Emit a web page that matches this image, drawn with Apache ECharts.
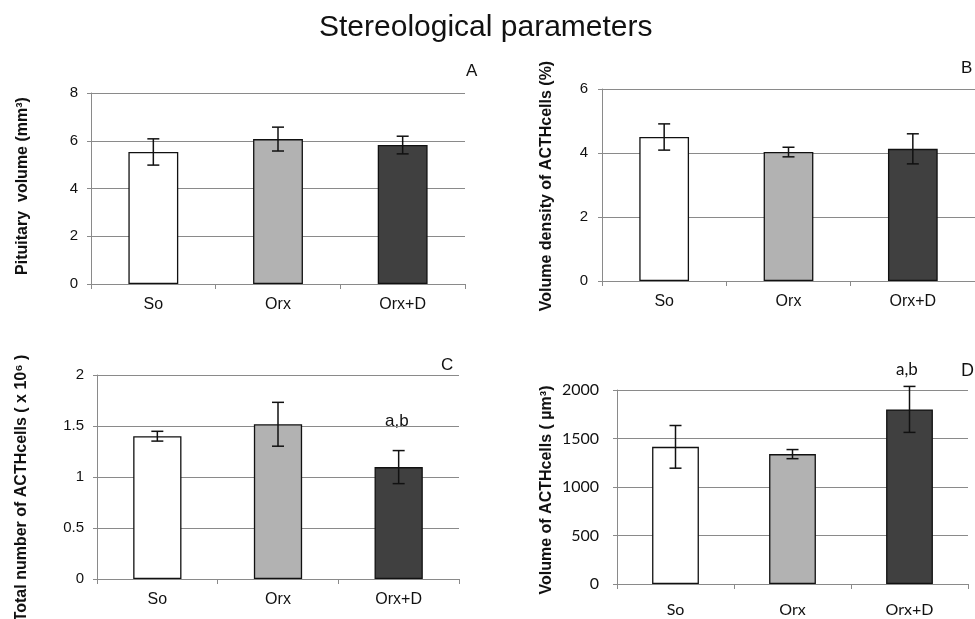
<!DOCTYPE html>
<html>
<head>
<meta charset="utf-8">
<script src="https://cdn.jsdelivr.net/npm/echarts@6/dist/echarts.min.js"></script>
<style>
html,body{margin:0;padding:0;background:#fff;}
#chart{width:975px;height:619px;}
</style>
</head>
<body>
<div id="chart"></div>
<script>
// ---- data ----
const categories = ['So', 'Orx', 'Orx+D'];

const volumeMean = [5.53, 6.07, 5.82];          // A: Pituitary volume (mm³)
const volumeErr  = [0.55, 0.50, 0.37];

const densityMean = [4.50, 4.03, 4.13];         // B: Volume density of ACTH cells (%)
const densityErr  = [0.41, 0.15, 0.47];

const totalMean = [1.40, 1.517, 1.097];         // C: Total number of ACTH cells (x10^6)
const totalErr  = [0.048, 0.215, 0.162];

const cellVolMean = [1414, 1339, 1800];         // D: Volume of ACTH cells (µm³)
const cellVolErr  = [220, 47, 237];

const yTitles = [
  'Pituitary  volume (mm³)',
  'Volume density of ACTHcells (%)',
  'Total number of ACTHcells ( x 10⁶ )',
  'Volume of ACTHcells ( µm³)'
];
const yMax = [8, 6, 2, 2000];
const yInterval = [2, 2, 0.5, 500];
const panelLetters = ['A', 'B', 'C', 'D'];
const sigLabel = 'a,b';

// ---- chart ----
const barColors = ['#ffffff', '#b2b2b2', '#404040'];
const means = [volumeMean, densityMean, totalMean, cellVolMean];
const errs = [volumeErr, densityErr, totalErr, cellVolErr];

const grids = [
  {left: 91, right: 510, top: 93, bottom: 335},
  {left: 602, right: 0, top: 89, bottom: 338},
  {left: 97, right: 516, top: 375, bottom: 40},
  {left: 617, right: 7, top: 390, bottom: 35}
];
const titlePos = [[23, 186], [547, 186], [22, 488], [547, 490]];
const fontFams = ['Liberation Sans', 'Liberation Sans', 'Liberation Sans', 'Lato'];
const tickSizes = [15, 15, 15, 16];
const tickMargins = [13, 14, 13, 18];
const catMargins = [13, 13, 13, 18];

const xAxes = [], yAxes = [], series = [];
for (let i = 0; i < 4; i++) {
  xAxes.push({
    type: 'category', gridIndex: i, data: categories,
    axisLine: {lineStyle: {color: '#8a8a8a', width: 1}},
    axisTick: {show: true, length: 5, lineStyle: {color: '#8a8a8a'}},
    axisLabel: {color: '#111', fontSize: 16, margin: catMargins[i], fontFamily: fontFams[i]}
  });
  yAxes.push({
    type: 'value', gridIndex: i, min: 0, max: yMax[i], interval: yInterval[i],
    axisLine: {show: true, lineStyle: {color: '#8a8a8a', width: 1}},
    axisTick: {show: true, length: 4, lineStyle: {color: '#8a8a8a'}},
    axisLabel: {color: '#111', fontSize: tickSizes[i], margin: tickMargins[i], fontFamily: fontFams[i],
      formatter: function (v) { return String(v); }},
    splitLine: {show: true, lineStyle: {color: '#8a8a8a', width: 1}}
  });
  series.push({
    type: 'bar', xAxisIndex: i, yAxisIndex: i, barWidth: '40%',
    data: means[i].map((v, k) => ({value: v, itemStyle: {color: barColors[k]}})),
    itemStyle: {borderColor: '#111', borderWidth: 1.3},
    silent: true
  });
  series.push({
    type: 'custom', xAxisIndex: i, yAxisIndex: i, silent: true, z: 5,
    data: means[i].map((v, k) => [k, v - errs[i][k], v + errs[i][k]]),
    renderItem: function (params, api) {
      const lo = api.coord([api.value(0), api.value(1)]);
      const hi = api.coord([api.value(0), api.value(2)]);
      const hw = 6;
      const st = {stroke: '#111', lineWidth: 1.5};
      return {type: 'group', children: [
        {type: 'line', shape: {x1: lo[0], y1: lo[1], x2: hi[0], y2: hi[1]}, style: st},
        {type: 'line', shape: {x1: lo[0] - hw, y1: lo[1], x2: lo[0] + hw, y2: lo[1]}, style: st},
        {type: 'line', shape: {x1: hi[0] - hw, y1: hi[1], x2: hi[0] + hw, y2: hi[1]}, style: st}
      ]};
    }
  });
}

const graphics = [];
for (let i = 0; i < 4; i++) {
  graphics.push({
    type: 'text', x: titlePos[i][0], y: titlePos[i][1], rotation: Math.PI / 2,
    style: {text: yTitles[i], fontSize: 16, fontWeight: 'bold', fill: '#111',
      fontFamily: 'Liberation Sans', textAlign: 'center', textVerticalAlign: 'middle'}
  });
}
graphics.push(
  {type: 'text', left: 466, top: 63, style: {text: panelLetters[0], fontSize: 17, fill: '#111', fontFamily: 'Liberation Sans'}},
  {type: 'text', left: 961, top: 60, style: {text: panelLetters[1], fontSize: 17, fill: '#111', fontFamily: 'Liberation Sans'}},
  {type: 'text', left: 441, top: 357, style: {text: panelLetters[2], fontSize: 17, fill: '#111', fontFamily: 'Liberation Sans'}},
  {type: 'text', left: 961, top: 362, style: {text: panelLetters[3], fontSize: 17, fill: '#111', fontFamily: 'Lato'}},
  {type: 'text', left: 385, top: 413, style: {text: sigLabel, fontSize: 17, fill: '#111', fontFamily: 'Liberation Sans'}},
  {type: 'text', left: 896, top: 361, style: {text: sigLabel, fontSize: 17, fill: '#111', fontFamily: 'Lato'}}
);

const chart = echarts.init(document.getElementById('chart'), null, {renderer: 'canvas'});
chart.setOption({
  animation: false,
  backgroundColor: '#fff',
  title: {
    text: 'Stereological parameters', left: 314, top: 8,
    textStyle: {fontSize: 30, fontWeight: 'normal', color: '#111', fontFamily: 'Liberation Sans'}
  },
  grid: grids,
  xAxis: xAxes,
  yAxis: yAxes,
  series: series,
  graphic: graphics
});
</script>
</body>
</html>
